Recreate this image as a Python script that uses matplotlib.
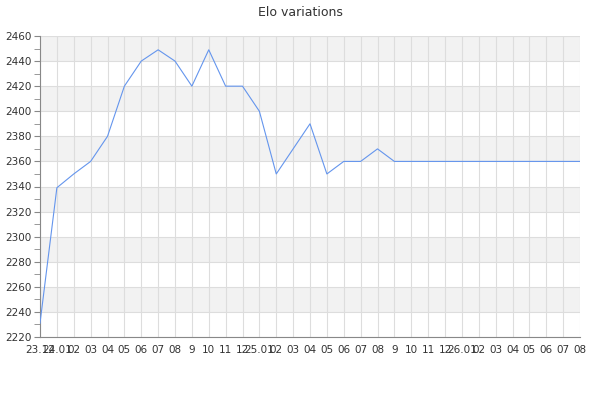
import matplotlib
matplotlib.use("Agg")
import matplotlib.pyplot as plt
import numpy as np

# Elo rating sampled at each tick
tick_labels = ["23.12", "24.01", "02", "03", "04", "05", "06", "07", "08", "9", "10", "11", "12",
               "25.01", "02", "03", "04", "05", "06", "07", "08", "9", "10", "11", "12",
               "26.01", "02", "03", "04", "05", "06", "07", "08"]
elo = [2231, 2339, 2350, 2360, 2380, 2420, 2440, 2449, 2440, 2420, 2449, 2420, 2420,
       2400, 2350, 2370, 2390, 2350, 2360, 2360, 2370, 2360, 2360, 2360, 2360,
       2360, 2360, 2360, 2360, 2360, 2360, 2360, 2360]

y_min, y_max, y_step = 2220, 2460, 20

fig = plt.figure(figsize=(6, 4), dpi=100)
ax = fig.add_axes([40 / 600, 1 - 337 / 400, 540 / 600, 301 / 400])

x = np.arange(len(elo))

# alternating bands
for i, y0 in enumerate(range(y_min, y_max, y_step)):
    if i % 2 == 1:
        ax.axhspan(y0, y0 + y_step, color="#f2f2f2", zorder=0, lw=0)

ax.plot(x, elo, color="#6495ed", lw=0.8, zorder=3)

ax.set_xlim(0, len(elo) - 1)
ax.set_ylim(y_min, y_max)
ax.set_xticks(x)
ax.set_xticklabels(tick_labels)
ax.set_yticks(range(y_min, y_max + 1, y_step))
ax.set_yticks(range(y_min + 10, y_max, y_step), minor=True)

ax.grid(True, color="#dddddd", lw=0.8, zorder=1)
ax.set_axisbelow(True)

for side in ["top", "right"]:
    ax.spines[side].set_visible(False)
for side in ["left", "bottom"]:
    ax.spines[side].set_color("#888888")
    ax.spines[side].set_linewidth(0.8)

ax.tick_params(axis="y", which="both", length=4, color="#888888", labelsize=7.5,
               labelcolor="#333333", pad=2)
ax.tick_params(axis="x", length=0, labelsize=7.5, labelcolor="#333333", pad=6)

fig.suptitle("Elo variations", fontsize=9, color="#333333", y=0.985)

fig.savefig("out.png", dpi=100)
